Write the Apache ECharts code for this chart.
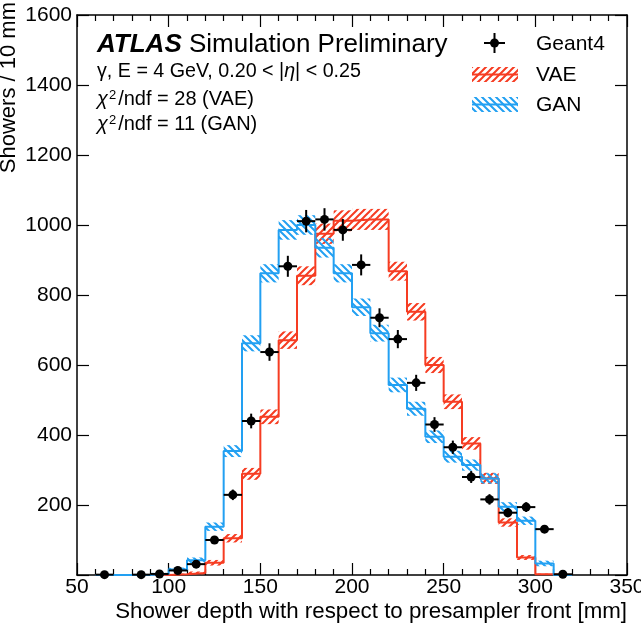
<!DOCTYPE html>
<html lang="en">
<head>
<meta charset="UTF-8">
<title>Shower depth</title>
<style>
  *{margin:0;padding:0;}
  body{background:#fff;}
  #chart{width:641px;height:624px;}
</style>
</head>
<body>
<div id="chart"></div>
<script src="https://cdn.jsdelivr.net/npm/echarts@6/dist/echarts.min.js"></script>
<script>
// bins are 10 mm wide, listed by their low edge
var binWidth = 10;
var binLow    = [60, 70, 80, 90, 100, 110, 120, 130, 140, 150, 160, 170, 180, 190, 200, 210, 220, 230, 240, 250, 260, 270, 280, 290, 300, 310];
var geant4    = [1, null, 1, 3, 13, 31, 100, 229, 440, 637, 882, 1011, 1016, 986, 886, 735, 674, 549, 430, 365, 280, 216, 178, 194, 131, 2];
var geant4Err = [1, null, 1, 2, 4, 6, 10, 15, 21, 25, 30, 32, 32, 31, 30, 27, 26, 23, 21, 19, 17, 15, 13, 14, 11, 1];
var vae       = [0, 0, 0, 0, 2, 6, 35, 105, 289, 452, 671, 855, 975, 1012, 1016, 1016, 868, 752, 600, 495, 376, 276, 150, 50, 2, 0];
var vaeErr    = [0, 0, 0, 0, 2, 4, 8, 12, 17, 21, 25, 27, 29, 30, 30, 30, 27, 25, 23, 21, 18, 16, 12, 7, 2, 0];
var gan       = [0, 0, 0, 3, 16, 42, 138, 354, 662, 862, 986, 1000, 935, 862, 765, 691, 543, 475, 395, 338, 314, 276, 195, 155, 33, 0];
var ganErr    = [0, 0, 0, 3, 5, 8, 12, 17, 23, 26, 28, 28, 28, 26, 25, 24, 21, 20, 18, 17, 16, 15, 13, 12, 8, 0];

var red = '#f63c22';
var blue = '#22a0f2';
var fontName = 'Liberation Sans, Arial, sans-serif';

// diagonal hatch tile, dir 1 = '/', dir -1 = '\'
function hatch(color, dir){
	var s = 7;
	var c = document.createElement('canvas');
	c.width = s; c.height = s;
	var ctx = c.getContext('2d');
	ctx.strokeStyle = color;
	ctx.lineWidth = 2;
	ctx.beginPath();
	if(dir > 0){
		ctx.moveTo(-1, s+1); ctx.lineTo(s+1, -1);
		ctx.moveTo(-1, 1); ctx.lineTo(1, -1);
		ctx.moveTo(s-1, s+1); ctx.lineTo(s+1, s-1);
	}else{
		ctx.moveTo(-1, -1); ctx.lineTo(s+1, s+1);
		ctx.moveTo(s-1, -1); ctx.lineTo(s+1, 1);
		ctx.moveTo(-1, s-1); ctx.lineTo(1, s+1);
	}
	ctx.stroke();
	return {image: c, repeat: 'repeat'};
}
var redHatch = hatch(red, 1);
var blueHatch = hatch(blue, -1);

function stepData(vals){
	var d = binLow.map(function(x, i){ return [x, vals[i]]; });
	d.push([binLow[binLow.length-1] + binWidth, vals[vals.length-1]]);
	return d;
}

function bandSeries(vals, errs, fill){
	var d = [];
	for(var i = 0; i < binLow.length; i++){
		if(!errs[i]) continue;
		d.push([binLow[i], binLow[i] + binWidth, Math.max(vals[i] - errs[i], 0), vals[i] + errs[i]]);
	}
	return {
		type: 'custom', data: d, silent: true, z: 2,
		encode: {x: [0, 1], y: [2, 3]},
		renderItem: function(params, api){
			var p1 = api.coord([api.value(0), api.value(3)]);
			var p2 = api.coord([api.value(1), api.value(2)]);
			return {type: 'rect', shape: {x: p1[0], y: p1[1], width: p2[0]-p1[0], height: p2[1]-p1[1]}, style: {fill: fill}};
		}
	};
}

function stepSeries(vals, color){
	return {type: 'line', step: 'end', data: stepData(vals), symbol: 'none', silent: true, z: 3,
		lineStyle: {color: color, width: 2}};
}

var g4Data = [];
for(var i = 0; i < binLow.length; i++){
	if(geant4[i] === null) continue;
	g4Data.push([binLow[i], geant4[i], geant4Err[i]]);
}

var axisBase = {
	type: 'value',
	axisLine: {show: true, onZero: false, lineStyle: {color: '#000', width: 1.5}},
	axisTick: {show: true, inside: true, length: 12, lineStyle: {color: '#000', width: 1.2}},
	splitLine: {show: false}
};

var chart = echarts.init(document.getElementById('chart'));
chart.setOption({
	animation: false,
	textStyle: {fontFamily: fontName, color: '#000'},
	grid: {left: 77, right: 14, top: 15, bottom: 49, outerBoundsMode: 'none', containLabel: false},
	xAxis: [
		Object.assign({}, axisBase, {position: 'bottom', min: 50, max: 350, interval: 50,
			minorTick: {show: true, splitNumber: 5, length: 6, lineStyle: {color: '#000', width: 1.2}},
			axisLabel: {color: '#000', fontSize: 21, margin: 2}}),
		Object.assign({}, axisBase, {position: 'top', min: 50, max: 350, interval: 50,
			minorTick: {show: true, splitNumber: 5, length: 6, lineStyle: {color: '#000', width: 1.2}},
			axisLabel: {show: false}})
	],
	yAxis: [
		Object.assign({}, axisBase, {position: 'left', min: 0, max: 1600, interval: 200,
			axisLabel: {color: '#000', fontSize: 21, margin: 5,
				formatter: function(v){ return v === 0 ? '' : v; }}}),
		Object.assign({}, axisBase, {position: 'right', min: 0, max: 1600, interval: 200,
			axisLabel: {show: false}})
	],
	series: [
		bandSeries(vae, vaeErr, redHatch),
		bandSeries(gan, ganErr, blueHatch),
		stepSeries(vae, red),
		stepSeries(gan, blue),
		{
			type: 'custom', data: g4Data, silent: true, z: 5,
			encode: {x: 0, y: 1},
			renderItem: function(params, api){
				var x = api.value(0), v = api.value(1), e = api.value(2);
				var c = api.coord([x + binWidth/2, v]);
				var l = api.coord([x, v]);
				var r = api.coord([x + binWidth, v]);
				var t = api.coord([x + binWidth/2, v + e]);
				var b = api.coord([x + binWidth/2, Math.max(v - e, 0)]);
				return {type: 'group', children: [
					{type: 'line', shape: {x1: l[0], y1: c[1], x2: r[0], y2: c[1]}, style: {stroke: '#000', lineWidth: 2}},
					{type: 'line', shape: {x1: c[0], y1: t[1], x2: c[0], y2: b[1]}, style: {stroke: '#000', lineWidth: 2}},
					{type: 'circle', shape: {cx: c[0], cy: c[1], r: 4.5}, style: {fill: '#000'}}
				]};
			}
		}
	],
	graphic: [
		// axis titles
		{type: 'text', x: 627, y: 612, style: {text: 'Shower depth with respect to presampler front [mm]',
			fontSize: 22.3, fontFamily: fontName, fill: '#000', align: 'right', verticalAlign: 'middle'}},
		{type: 'text', x: 9, y: 2, rotation: Math.PI/2, style: {text: 'Showers / 10 mm',
			fontSize: 22, fontFamily: fontName, fill: '#000', align: 'right', verticalAlign: 'middle'}},
		// labels in the plot
		{type: 'text', x: 97, y: 45, style: {text: '{a|ATLAS} Simulation Preliminary',
			fontSize: 26, fontFamily: fontName, fill: '#000', verticalAlign: 'middle',
			rich: {a: {fontSize: 26, fontFamily: fontName, fontWeight: 'bold', fontStyle: 'italic'}}}},
		{type: 'text', x: 97, y: 72, style: {text: 'γ, E = 4 GeV, 0.20 < |{i|η}| < 0.25',
			fontSize: 19.7, fontFamily: fontName, fill: '#000', verticalAlign: 'middle',
			rich: {i: {fontSize: 19.7, fontFamily: fontName, fontStyle: 'italic'}}}},
		{type: 'text', x: 97, y: 99, style: {text: '{c|χ}{s|2}/ndf = 28 (VAE)',
			fontSize: 20, fontFamily: fontName, fill: '#000', verticalAlign: 'middle',
			rich: {c: {fontSize: 20, fontFamily: fontName, fontStyle: 'italic', padding: [0, 1, 0, 0]},
				s: {fontSize: 13, fontFamily: fontName, verticalAlign: 'top', padding: [0, 2, 0, 0]}}}},
		{type: 'text', x: 97, y: 124, style: {text: '{c|χ}{s|2}/ndf = 11 (GAN)',
			fontSize: 20, fontFamily: fontName, fill: '#000', verticalAlign: 'middle',
			rich: {c: {fontSize: 20, fontFamily: fontName, fontStyle: 'italic', padding: [0, 1, 0, 0]},
				s: {fontSize: 13, fontFamily: fontName, verticalAlign: 'top', padding: [0, 2, 0, 0]}}}},
		// legend
		{type: 'line', shape: {x1: 484, y1: 43, x2: 505, y2: 43}, style: {stroke: '#000', lineWidth: 2}},
		{type: 'line', shape: {x1: 494.5, y1: 33, x2: 494.5, y2: 53}, style: {stroke: '#000', lineWidth: 2}},
		{type: 'circle', shape: {cx: 494.5, cy: 43, r: 4.5}, style: {fill: '#000'}},
		{type: 'text', x: 536, y: 44, style: {text: 'Geant4', fontSize: 21, fontFamily: fontName, fill: '#000', verticalAlign: 'middle'}},
		{type: 'rect', shape: {x: 472, y: 67, width: 46, height: 15}, style: {fill: redHatch}},
		{type: 'line', shape: {x1: 472, y1: 74.5, x2: 518, y2: 74.5}, style: {stroke: red, lineWidth: 2}},
		{type: 'text', x: 536, y: 75, style: {text: 'VAE', fontSize: 21, fontFamily: fontName, fill: '#000', verticalAlign: 'middle'}},
		{type: 'rect', shape: {x: 472, y: 97, width: 46, height: 15}, style: {fill: blueHatch}},
		{type: 'line', shape: {x1: 472, y1: 104.5, x2: 518, y2: 104.5}, style: {stroke: blue, lineWidth: 2}},
		{type: 'text', x: 536, y: 105, style: {text: 'GAN', fontSize: 21, fontFamily: fontName, fill: '#000', verticalAlign: 'middle'}}
	]
});
</script>
</body>
</html>
